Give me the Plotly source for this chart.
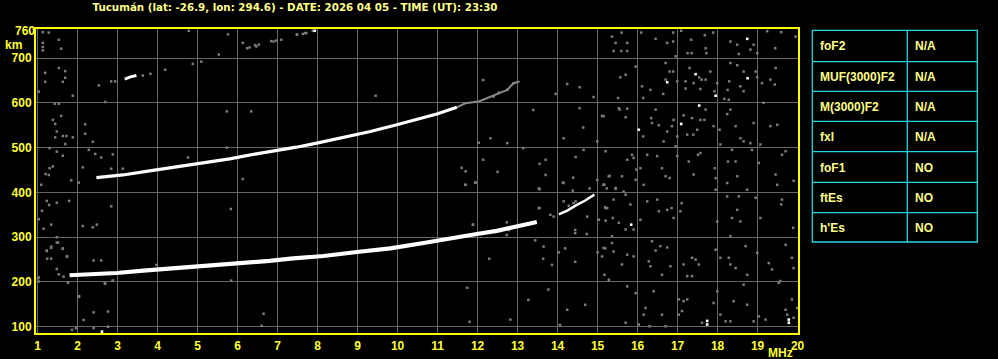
import plotly.graph_objects as go

# ---------------- data ----------------
title_text = "Tucumán (lat: -26.9, lon: 294.6) - DATE: 2026 04 05 - TIME (UT): 23:30"

x_ticks = list(range(1, 21))
y_ticks = [100, 200, 300, 400, 500, 600, 700]
y_top_tick = [760]

# main F-layer trace (first hop)
f1_freq = [1.8, 2.3, 2.97, 3.72, 4.47, 5.13, 5.97, 6.8, 7.32, 8.15, 8.98, 9.82, 10.65, 11.48, 11.98, 12.48, 12.98, 13.48]
f1_height = [215, 217, 220, 226, 231, 234, 240, 247, 252, 258, 267, 275, 287, 298, 307, 314, 324, 334]

# continuation near the critical frequency
f1b_freq = [14.03, 14.23, 14.48, 14.69, 14.92]
f1b_height = [351, 359, 372, 382, 395]

# second hop trace
f2_freq = [2.47, 3.13, 3.8, 4.47, 5.13, 5.8, 6.47, 7.13, 7.47, 7.98, 8.65, 9.32, 9.98, 10.65, 10.98, 11.48]
f2_height = [433, 439, 448, 457, 465, 475, 486, 495, 501, 510, 523, 536, 551, 566, 575, 590]

# faint continuation of second hop
f2b_freq = [11.48, 11.69, 12.03, 12.38, 12.57, 12.74, 12.9, 13.05]
f2b_height = [590, 599, 603, 616, 624, 629, 644, 648]

# short third-hop piece
f3_freq = [3.18, 3.32, 3.47]
f3_height = [653, 658, 661]

# gray noise dots
noise_freq = [
    15.36, 15.6, 15.74, 15.45, 15.4, 15.59, 15.74, 16.09, 16.45, 16.74, 16.89, 16.89, 17.09, 17.34, 17.25, 17.35,
    17.68, 17.7, 17.89, 18.32, 18.49, 18.82, 18.9, 18.99, 19.24, 19.44, 19.59, 19.95, 16.95, 17.72, 18.53,
    15.95, 15.7, 15.57, 15.51, 15.53, 16.11, 16.14, 16.32, 16.45, 16.7, 16.7, 16.8, 16.64, 16.89, 16.99, 17.2,
    17.2, 17.3, 17.4, 17.54, 17.6, 17.7, 17.57, 17.82, 17.92, 17.99, 18.17, 18.25, 18.29, 18.32, 18.49, 18.65,
    18.57, 18.65, 18.95, 18.99, 19.11, 19.32, 19.43, 19.15, 19.45, 18.28,
    15.15, 15.55, 15.7, 15.74, 16.14, 16.34, 16.36, 16.53, 16.74, 16.86, 16.9, 17.15, 16.99, 17.24, 17.36, 17.39,
    17.49, 17.57, 17.67, 17.7, 17.9, 18.05, 18.07, 18.24, 18.45, 18.57, 18.65, 18.9, 19.07, 19.32, 19.49, 18.82,
    18.32, 16.95, 16.65,
    15.2, 15.28, 15.45, 15.61, 15.65, 15.74, 15.86, 15.9, 15.97, 16.07, 16.15, 16.24, 16.49, 16.61, 16.7, 16.8,
    16.99, 17.28, 17.4, 17.57, 17.51, 17.93, 17.95, 17.95, 18.26, 18.24, 18.36, 18.49, 18.45, 18.74, 18.86, 19.03,
    19.45, 19.49, 19.61, 19.7, 19.9, 15.17, 15.95,
    15.2, 15.24, 15.4, 15.2, 15.38, 15.53, 15.7, 15.82, 15.9, 16.07, 16.24, 16.49, 16.53, 16.74, 16.85, 16.9,
    17.1, 17.07, 17.99, 18.24, 18.36, 18.49, 18.57, 18.53, 18.95, 19.07, 19.61, 19.59, 19.89, 15.36, 15.7, 18.32,
    15.15, 15.36, 15.4, 15.61, 15.74, 15.9, 16.36, 16.28, 16.32, 16.45, 16.57, 16.74, 16.82, 16.61, 17.15, 17.24,
    17.36, 17.45, 17.53, 17.36, 17.95, 18.07, 18.28, 18.32, 18.45, 18.7, 18.74, 18.99, 19.28, 19.36, 19.53, 19.7,
    19.86, 19.9, 15.17, 15.28,
    15.74, 15.95, 16.2, 16.15, 16.4, 16.61, 16.7, 17.03, 17.03, 17.15, 17.24, 17.11, 17.61, 17.9, 17.99, 18.07,
    18.2, 18.32, 18.4, 18.65, 18.74, 18.9, 19.03, 19.2, 19.57, 19.7, 19.86, 19.9, 19.99, 19.74, 16.03, 15.7, 16.3,
    9.45, 12.14, 12.4, 12.53, 12.74, 12.9, 13.95, 14.24, 14.55, 14.9, 13.39, 12.03, 12.32, 12.74, 13.14, 14.15,
    14.64, 14.55, 14.99, 15.11, 12.14, 11.7, 11.95, 11.7, 13.7, 13.55, 14.45, 14.65, 14.39, 13.7, 13.55, 14.15,
    14.45, 13.9, 13.55, 14.74, 11.89, 14.99, 15.15, 15.45, 15.3,
    5.76, 5.53, 6.13, 6.3, 6.47, 6.53, 6.84, 6.97, 7.09, 7.48, 7.63, 7.72, 7.88, 6.24, 6.44, 6.9, 7.49, 7.69,
    1.13, 1.13, 1.13, 1.13, 1.28, 1.53, 1.59, 4.78, 4.88, 5.09, 4.19, 3.82, 3.63, 2.84, 2.94, 2.53, 1.19, 1.19,
    1.69, 1.69, 1.63, 1.53,
    1.03, 1.88, 1.43, 1.53, 2.69, 1.38, 1.59, 1.44, 2.19, 1.48, 1.63, 1.72, 1.88, 1.44, 2.19, 1.69, 2.38, 1.3,
    1.48, 1.63, 2.28, 2.44, 2.59, 2.88, 1.3, 1.38, 2.13, 2.84, 3.13, 1.2, 1.28, 1.84, 2.03, 1.09, 5.73, 6.34,
    5.73, 4.76, 6.13,
    1.34, 1.51, 1.63, 1.23, 1.74, 1.34, 1.24, 1.48, 1.53, 1.01, 1.03, 2.4, 2.59, 2.68, 2.88, 2.03, 1.76, 5.84,
    3.97, 2.4, 2.15, 2.76, 1.86, 1.96, 2.4, 2.76, 6.65, 6.6,
    1.23, 1.29, 1.48, 1.79, 1.11, 1.03, 1.34, 1.15, 2.13, 2.38, 2.48, 2.84, 1.48, 1.23, 1.34, 1.63, 1.48, 1.73,
    1.65, 1.03, 1.76, 2.69, 2.88, 2.04, 5.83,
    11.69, 11.94, 11.88, 12.73, 13.53, 14.13, 14.38, 14.8, 15.15, 15.23, 13.82, 13.53, 13.44, 13.65, 14.19, 14.03,
    14.73, 14.44, 14.44, 15.03, 15.19, 15.19, 15.11, 15.0, 12.73, 12.78, 12.29, 13.64, 13.86, 14.15, 14.28, 14.4,
    13.27, 13.77, 14.24, 14.06, 14.69, 14.44, 12.82, 11.6, 12.5, 11.74, 11.8,
]
noise_height = [
    748, 757, 734, 734, 716, 716, 716, 757, 743, 734, 757, 737, 761, 741, 711, 711,
    751, 722, 757, 737, 730, 719, 730, 711, 760, 722, 758, 748, 704, 711, 709,
    681, 663, 657, 611, 588, 637, 611, 629, 585, 689, 652, 670, 620, 670, 648, 648,
    632, 678, 644, 657, 652, 652, 631, 670, 626, 644, 609, 629, 648, 689, 684, 670,
    637, 626, 670, 657, 644, 652, 641, 600, 678, 607,
    570, 585, 568, 587, 525, 566, 555, 550, 536, 548, 562, 572, 525, 529, 566, 529,
    540, 562, 562, 585, 548, 540, 507, 575, 548, 521, 514, 555, 507, 548, 551, 510,
    585, 503, 514,
    492, 436, 408, 436, 402, 473, 484, 477, 451, 454, 417, 484, 481, 454, 436, 432,
    481, 469, 440, 488, 484, 454, 432, 406, 469, 421, 495, 436, 469, 406, 495, 466,
    440, 417, 484, 492, 426, 417, 428,
    365, 365, 384, 337, 343, 332, 395, 373, 317, 339, 380, 384, 358, 361, 365, 343,
    376, 358, 335, 391, 343, 361, 335, 391, 388, 343, 384, 373, 321, 302, 317, 302,
    276, 287, 268, 239, 261, 257, 291, 246, 235, 270, 280, 277, 235, 216, 239, 213,
    254, 250, 239, 213, 272, 254, 254, 239, 231, 280, 216, 265, 242, 228, 198, 283,
    254, 231, 216, 205,
    190, 175, 142, 127, 179, 127, 101, 161, 127, 157, 161, 135, 109, 153, 179, 127,
    112, 112, 157, 194, 149, 112, 123, 116, 202, 138, 161, 120, 142, 127, 105, 109, 101,
    616, 651, 614, 623, 629, 644, 620, 642, 635, 613, 584, 511, 521, 510, 499, 521,
    545, 588, 514, 571, 473, 447, 422, 417, 473, 464, 479, 495, 433, 439, 407, 421,
    380, 346, 365, 346, 328, 428, 417, 410, 437,
    753, 708, 734, 724, 726, 730, 738, 739, 741, 753, 754, 756, 761, 722, 729, 737, 752, 756,
    758, 734, 725, 717, 757, 741, 721, 761, 687, 692, 674, 665, 661, 648, 648, 639, 667, 647,
    671, 656, 647, 678,
    625, 616, 598, 598, 602, 562, 571, 553, 552, 536, 526, 526, 523, 523, 531, 508, 513, 499,
    491, 482, 495, 486, 478, 485, 454, 458, 456, 453, 453, 441, 439, 427, 422, 417, 581, 581,
    500, 478, 430,
    279, 288, 275, 269, 257, 252, 252, 229, 217, 208, 201, 248, 248, 197, 203, 167, 199, 203,
    238, 132, 115, 134, 93, 97, 97, 100, 129, 102,
    381, 372, 377, 381, 359, 340, 328, 319, 325, 322, 328, 369, 300, 270, 276, 274, 288, 257,
    212, 210, 199, 196, 203, 168, 363,
    417, 422, 328, 333, 409, 422, 404, 409, 417, 409, 350, 365, 293, 279, 275, 266,
    307, 316, 309, 339, 367, 275, 257, 266, 305, 316, 252, 252, 238, 380, 370, 376,
    160, 183, 138, 104, 149, 245, 116, 455, 446, 187, 111,
]

# bright (white) isolated echoes
white_freq = [18.74, 16.74, 17.45, 17.95, 18.75, 16.03, 17.09, 17.54, 15.84, 17.74, 17.74, 19.78, 19.78, 2.61, 7.93]
white_height = [743, 646, 664, 616, 655, 540, 553, 594, 328, 105, 113, 109, 116, 89, 761]

table_params = ["foF2", "MUF(3000)F2", "M(3000)F2", "fxI", "foF1", "ftEs", "h'Es"]
table_values = ["N/A", "N/A", "N/A", "N/A", "NO", "NO", "NO"]

# ---------------- styling ----------------
W, H = 998, 359
ML, MR, MT, MB = 36, 200, 29, 26
PW, PH = W - ML - MR, H - MT - MB

def pxx(x):
    return (x - ML) / PW

def pxy(y):
    return (H - MB - y) / PH

YEL = "#ffff33"
PALE = "#ffff88"
GRID = "#666666"
NOISE = "#7c7c7c"
CYAN = "#22d8e0"
tick_font = dict(family="Liberation Sans, Arial, sans-serif", size=12, color=YEL, weight="bold")
y_range = [86, 765]

fig = go.Figure()

fig.add_trace(go.Scatter(x=noise_freq, y=noise_height, mode="markers",
                         marker=dict(symbol="square", size=2.5, color=NOISE, line=dict(width=0)),
                         hoverinfo="skip"))
fig.add_trace(go.Scatter(x=f2b_freq, y=f2b_height, mode="lines",
                         line=dict(color="#8a8a8a", width=2), hoverinfo="skip"))
fig.add_trace(go.Scatter(x=f1_freq, y=f1_height, mode="lines",
                         line=dict(color="white", width=4.2), hoverinfo="skip"))
fig.add_trace(go.Scatter(x=f1b_freq, y=f1b_height, mode="lines",
                         line=dict(color="white", width=2.5), hoverinfo="skip"))
fig.add_trace(go.Scatter(x=f2_freq, y=f2_height, mode="lines",
                         line=dict(color="white", width=3.2), hoverinfo="skip"))
fig.add_trace(go.Scatter(x=f3_freq, y=f3_height, mode="lines",
                         line=dict(color="white", width=3), hoverinfo="skip"))
fig.add_trace(go.Scatter(x=white_freq, y=white_height, mode="markers", yaxis="y2",
                         marker=dict(symbol="square", size=2.6, color="white", line=dict(width=0)),
                         hoverinfo="skip"))

fig.update_layout(
    width=W, height=H,
    margin=dict(l=ML, r=MR, t=MT, b=MB, pad=0, autoexpand=False),
    paper_bgcolor="black", plot_bgcolor="black",
    showlegend=False,
    title=dict(text=title_text, x=295 / W, xanchor="center", y=1 - 7.5 / H, yanchor="middle",
               font=dict(family="DejaVu Sans", size=10.3, color=PALE, weight="bold")),
    xaxis=dict(range=[0.96, 20.01], tickvals=x_ticks, ticktext=[str(v) for v in x_ticks],
               showgrid=True, gridcolor=GRID, gridwidth=1, zeroline=False,
               showline=True, linecolor="#ffff00", linewidth=2, mirror=True,
               ticks="", tickfont=tick_font, ticklabelstandoff=1, automargin=False),
    yaxis=dict(range=y_range, tickvals=y_ticks, ticktext=[str(v) for v in y_ticks],
               showgrid=True, gridcolor=GRID, gridwidth=1, zeroline=False,
               showline=True, linecolor="#ffff00", linewidth=2, mirror=True,
               ticks="", tickfont=tick_font, automargin=False),
    yaxis2=dict(range=y_range, overlaying="y", side="left", tickvals=y_top_tick,
                ticktext=[str(v) for v in y_top_tick], showgrid=False, zeroline=False,
                showline=False, ticks="", tickfont=tick_font, automargin=False),
)

annotations = [
    dict(text="km", x=pxx(13.5), y=pxy(45), xref="paper", yref="paper", showarrow=False,
         xanchor="center", yanchor="middle", font=tick_font),
    dict(text="MHz", x=pxx(780), y=pxy(353), xref="paper", yref="paper", showarrow=False,
         xanchor="center", yanchor="middle", font=tick_font),
]

# table
tab_left, tab_mid, tab_right = 812.3, 907.3, 977.3
row_edges = [30.3, 61.7, 91.3, 121.3, 151.7, 182.3, 212.7, 242.0]
shapes = [
    dict(type="rect", xref="paper", yref="paper", x0=pxx(tab_left), x1=pxx(tab_right),
         y0=pxy(row_edges[0]), y1=pxy(row_edges[-1]), line=dict(color=CYAN, width=1.3)),
    dict(type="line", xref="paper", yref="paper", x0=pxx(tab_mid), x1=pxx(tab_mid),
         y0=pxy(row_edges[0]), y1=pxy(row_edges[-1]), line=dict(color=CYAN, width=1.3)),
]
for e in row_edges[1:-1]:
    shapes.append(dict(type="line", xref="paper", yref="paper", x0=pxx(tab_left), x1=pxx(tab_right),
                       y0=pxy(e), y1=pxy(e), line=dict(color=CYAN, width=1.3)))

table_font = dict(family="Liberation Sans, Arial, sans-serif", size=12, color=PALE, weight="bold")
for i, (p, v) in enumerate(zip(table_params, table_values)):
    yc = (row_edges[i] + row_edges[i + 1]) / 2 + 0.5
    annotations.append(dict(text=p, x=pxx(817.5), y=pxy(yc), xref="paper", yref="paper",
                            showarrow=False, xanchor="left", yanchor="middle", font=table_font))
    annotations.append(dict(text=v, x=pxx(912.5), y=pxy(yc), xref="paper", yref="paper",
                            showarrow=False, xanchor="left", yanchor="middle", font=table_font))

fig.update_layout(annotations=annotations, shapes=shapes)

fig.write_html("out.html")
